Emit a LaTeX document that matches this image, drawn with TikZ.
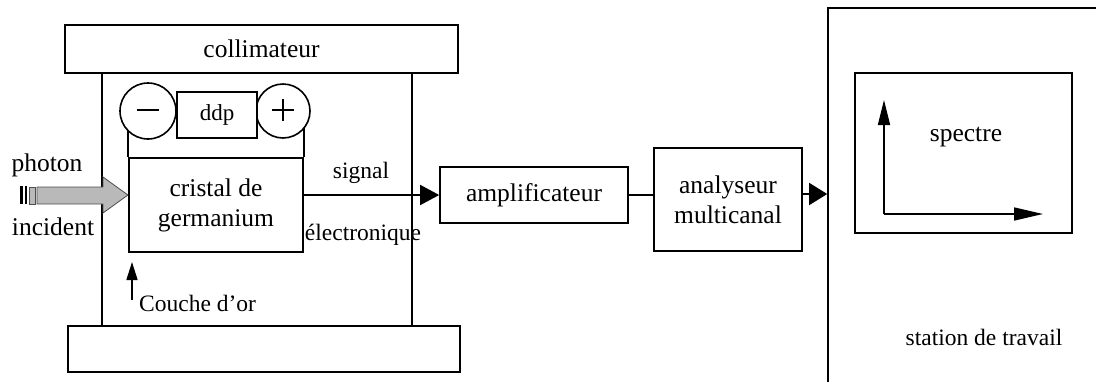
\documentclass[tikz,border=0pt]{standalone}
\usepackage{fontspec}
\setmainfont{Liberation Serif}
\usetikzlibrary{arrows.meta}
\begin{document}
\begin{tikzpicture}[x=1pt,y=-1pt,
  box/.style={draw, line width=1.6pt, inner sep=0pt, align=center, font=\fontsize{25.5}{30}\selectfont},
  circ/.style={draw, circle, fill=white, line width=1.6pt, inner sep=0pt},
  lbl/.style={inner sep=0pt, font=\fontsize{25.5}{30}\selectfont},
  lbls/.style={inner sep=0pt, font=\fontsize{23.5}{28}\selectfont},
  wall/.style={line width=1.6pt},
  conn/.style={line width=1.6pt},
  photon/.style={fill=gray!55, draw=black!70, line width=0.8pt}]
\useasboundingbox (0,0) rectangle (1096,381);
\clip (0,0) rectangle (1096,381);
% collimator bars and housing
\node[box, minimum width=393pt, minimum height=48pt] (coll) at (261.5,49) {collimateur};
\node[box, minimum width=392pt, minimum height=46pt] (base) at (264,349) {};
\draw[wall] (102,73) -- (102,326);
\draw[wall] (412,73) -- (412,326);
% crystal
\node[box, line width=2.2pt, minimum width=174pt, minimum height=94pt] (crys) at (216,205) {cristal de\\germanium};
\draw[line width=2.2pt] (crys.north west) -- ++(0,-28);
\draw[line width=2.2pt] (crys.north east) -- ++(0,-30);
\node[circ, minimum size=56pt] (minus) at (148,111) {};
\node[circ, minimum size=54pt] (plus) at (283,111) {};
\node[box, fill=white, minimum width=80pt, minimum height=46pt, font=\fontsize{23}{27}\selectfont] (ddp) at (217,115) {ddp};
\draw[line width=1.5pt] ([xshift=-11pt,yshift=1pt]minus.center) -- ([xshift=11pt,yshift=1pt]minus.center);
\draw[line width=1.5pt] ([xshift=-11pt,yshift=1pt]plus.center) -- ([xshift=11pt,yshift=1pt]plus.center);
\draw[line width=1.5pt] ([yshift=12pt]plus.center) -- ([yshift=-10pt]plus.center);
% photon arrow
\coordinate (ptip) at ([yshift=10pt]crys.west);
\fill[black] (20,186) rectangle (23,204);
\fill[black] (25,186) rectangle (27,204);
\filldraw[photon] (29,187) rectangle (35,204);
\filldraw[photon] (37,187) -- (103,187) -- (103,177) -- (ptip) -- (103,213) -- (103,204) -- (37,204) -- cycle;
\node[lbl] (ph) at (47,165) {photon};
\node[lbl] (inc) at (53,227) {incident};
% gold layer
\coordinate (orBase) at (132,300);
\coordinate (orTip) at (132,262);
\draw[line width=1.5pt, -{Triangle[length=18pt,width=11pt]}] (orBase) -- (orTip);
\node[lbls, anchor=west] (or) at (139,303) {Couche d’or};
% chain
\node[box, minimum width=188pt, minimum height=56pt] (amp) at (534,195) {amplificateur};
\node[box, minimum width=148pt, minimum height=103pt] (ana) at (728,199.5) {analyseur\\multicanal};
\draw[conn, -{Triangle[length=19pt,width=20pt]}] (crys.east |- amp.west) -- (amp.west);
\node[lbls] (sig) at (361,173) {signal};
\node[lbls] (elec) at (363,235) {électronique};
\draw[conn] (amp.east) -- (amp.east -| ana.west);
% station
\node[box, minimum width=282pt, minimum height=382pt] (stat) at (969,199) {};
\coordinate (stin) at (stat.west |- 0,194);
\draw[conn, -{Triangle[length=18pt,width=22pt]}] (ana.east |- stin) -- (stin);
\node[lbls] (stxt) at (984,337) {station de travail};
\node[box, minimum width=217pt, minimum height=160pt] (spec) at (963.5,153) {};
\node[lbl] (stx) at (966,137) {spectre};
\coordinate (orig) at (884,214);
\coordinate (yend) at (884,100);
\coordinate (xend) at (1043,214);
\draw[conn, -{Triangle[length=25pt,width=12pt]}] (orig) -- (yend);
\draw[conn, -{Triangle[length=29pt,width=13pt]}] (orig) -- (xend);
\end{tikzpicture}
\end{document}
